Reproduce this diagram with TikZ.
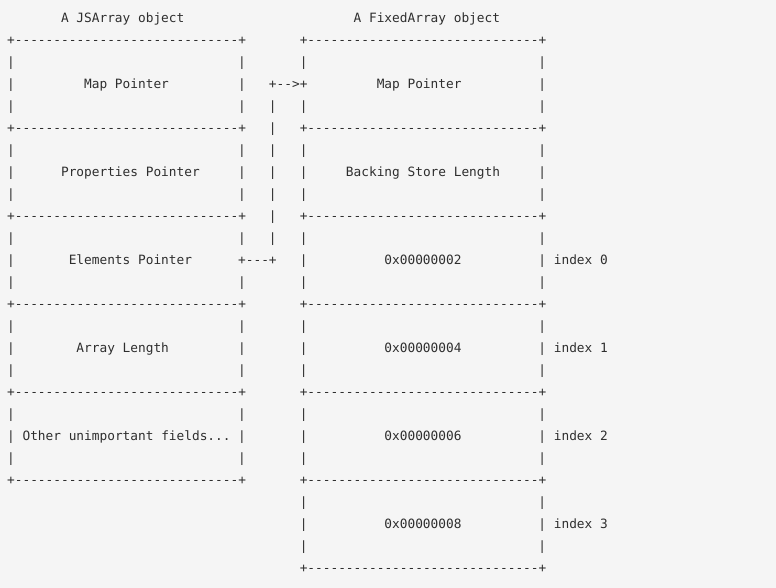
\documentclass[tikz,border=0pt]{standalone}
\usepackage{fontspec}
\setmonofont{DejaVu Sans Mono}
\definecolor{bg}{HTML}{F5F5F5}
\definecolor{ink}{HTML}{2E2E2E}
\ExplSyntaxOn
\cs_new:Npn \myrep #1#2 { \prg_replicate:nn {#1} {#2} }
\ExplSyntaxOff
\tikzset{
  asc/.style={anchor=base west, inner sep=0pt, outer sep=0pt,
    font=\ttfamily\fontsize{12.8}{12.8}\selectfont, text=ink},
}
% \asc{name}{line}{column}{text}
\newcommand\asc[4]{\node[asc] (#1) at ({7.15+7.7*(#3)},{22.5+22*(#2)}) {#4};}
\begin{document}
\begin{tikzpicture}[x=1pt,y=-1pt]
\fill[bg] (0,0) rectangle (776,588);
\useasboundingbox (0,0) rectangle (776,588);
% titles
\asc{t1}{0}{7}{A JSArray object}
\asc{t2}{0}{45}{A FixedArray object}
% left box borders
\foreach \l in {1,5,9,13,17,21} {\asc{lb\l}{\l}{0}{+\myrep{29}{-}+}}
% right box borders
\foreach \l in {1,5,9,13,17,21,25} {\asc{rb\l}{\l}{38}{+\myrep{30}{-}+}}
% left box sides
\foreach \l in {2,3,4,6,7,8,10,11,12,14,15,16,18,19,20} {\asc{ll\l}{\l}{0}{|}}
\foreach \l in {2,3,4,6,7,8,10,12,14,15,16,18,19,20} {\asc{lr\l}{\l}{30}{|}}
% right box sides
\foreach \l in {2,4,6,7,8,10,11,12,14,15,16,18,19,20,22,23,24} {\asc{rl\l}{\l}{38}{|}}
\foreach \l in {2,3,4,6,7,8,10,11,12,14,15,16,18,19,20,22,23,24} {\asc{rr\l}{\l}{69}{|}}
% pointer connector
\asc{arrow}{3}{34}{+-{}->+}
\foreach \l in {4,...,10} {\asc{cv\l}{\l}{34}{|}}
\asc{elem}{11}{30}{+-{}-{}-+}
% left box fields
\asc{f1}{3}{10}{Map Pointer}
\asc{f2}{7}{7}{Properties Pointer}
\asc{f3}{11}{8}{Elements Pointer}
\asc{f4}{15}{9}{Array Length}
\asc{f5}{19}{2}{Other unimportant fields...}
% right box fields
\asc{g1}{3}{48}{Map Pointer}
\asc{g2}{7}{44}{Backing Store Length}
\asc{g3}{11}{49}{0x00000002}
\asc{g4}{15}{49}{0x00000004}
\asc{g5}{19}{49}{0x00000006}
\asc{g6}{23}{49}{0x00000008}
% index labels
\asc{i0}{11}{71}{index 0}
\asc{i1}{15}{71}{index 1}
\asc{i2}{19}{71}{index 2}
\asc{i3}{23}{71}{index 3}
\end{tikzpicture}
\end{document}
